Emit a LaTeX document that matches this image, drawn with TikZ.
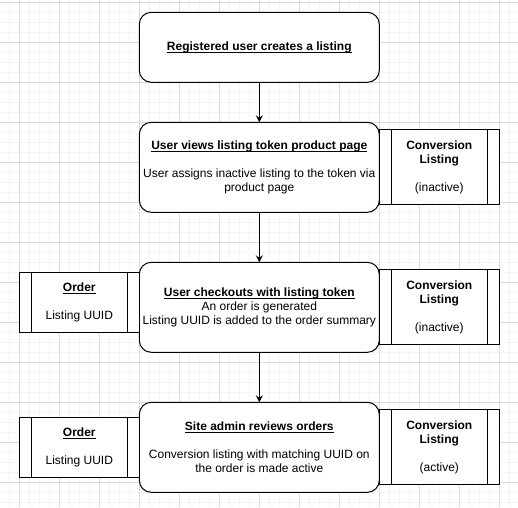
\documentclass[tikz,border=0pt]{standalone}
\usepackage{fontspec}
\setmainfont{Liberation Sans}
\usepackage{tikz}
\usetikzlibrary{positioning, arrows.meta}
\definecolor{gridmin}{rgb}{0.96,0.96,0.96}
\definecolor{gridmaj}{rgb}{0.86,0.86,0.86}
\tikzstyle{stp}=[%
      rectangle, rounded corners=12pt, draw=black, line width=1pt, fill=white,
      minimum width=240pt, minimum height=90pt, inner sep=0pt, outer sep=0pt, align=center
]
\tikzstyle{prc}=[%
      rectangle, draw=black, line width=1pt, fill=white,
      minimum width=120pt, minimum height=75pt, inner sep=0pt, outer sep=0pt, align=center,
      path picture={
        \draw[line width=1pt] ([xshift=12pt]path picture bounding box.north west) -- ([xshift=12pt]path picture bounding box.south west);
        \draw[line width=1pt] ([xshift=-12pt]path picture bounding box.north east) -- ([xshift=-12pt]path picture bounding box.south east);
      }
]
\newcommand{\hd}[1]{\underline{\raisebox{0pt}[\height][0pt]{\textbf{#1}}}}

\begin{document}
\begin{tikzpicture}[x=1pt, y=1pt,
    font=\fontsize{12}{14}\selectfont,
    >={Stealth[length=7pt,width=7pt,inset=2.5pt]}
  ]
    \useasboundingbox (0,0) rectangle (518,-507);
    % background grid
    \foreach \i in {0,...,50} \draw[gridmin, line width=1pt] (9.3+10*\i,0) -- ++(0,-507);
    \foreach \i in {0,...,50} \draw[gridmin, line width=1pt] (0,-2.5-10*\i) -- ++(518,0);
    \foreach \i in {0,...,12} \draw[gridmaj, line width=0.8pt] (19.3+40*\i,0) -- ++(0,-507);
    \foreach \i in {0,...,12} \draw[gridmaj, line width=0.8pt] (0,-2.5-40*\i) -- ++(518,0);

    \node[stp, minimum height=70pt] (a) at (259.3,-47.3) {\hd{Registered user creates a listing}};
    \node[stp] (b) [below = 40pt of a] {\hd{User views listing token product page}\\[14pt]User assigns inactive listing to the token via\\product page};
    \node[stp] (c) [below = 50pt of b] {\hd{User checkouts with listing token}\\An order is generated\\Listing UUID is added to the order summary};
    \node[stp] (d) [below = 50pt of c] {\hd{Site admin reviews orders}\\[14pt]Conversion listing with matching UUID on\\the order is made active};

    \node[prc] (cb) [right = 0pt of b] {\textbf{Conversion}\\\textbf{Listing}\\[14pt](inactive)};
    \node[prc] (cc) [right = 0pt of c] {\textbf{Conversion}\\\textbf{Listing}\\[14pt](inactive)};
    \node[prc] (cd) [right = 0pt of d] {\textbf{Conversion}\\\textbf{Listing}\\[14pt](active)};
    \node[prc, minimum height=60pt] (oc) [left = 0pt of c, yshift=5pt] {\hd{Order}\\[14pt]Listing UUID};
    \node[prc, minimum height=60pt] (od) [left = 0pt of d] {\hd{Order}\\[14pt]Listing UUID};

    \path[->, line width=1pt] (a) edge (b)
          (b) edge (c)
          (c) edge (d)
    ;
  \end{tikzpicture}
\end{document}
